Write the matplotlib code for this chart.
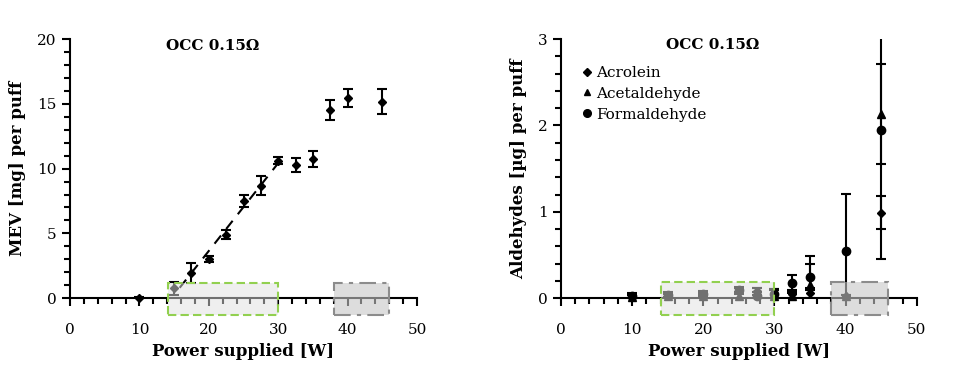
import matplotlib.pyplot as plt
import numpy as np
from matplotlib.patches import Rectangle
from matplotlib.ticker import MultipleLocator

plt.rcParams['font.family'] = ['DejaVu Serif']

# MEV per puff (left panel)
mev_power = [10, 15, 17.5, 20, 22.5, 25, 27.5, 30, 32.5, 35, 37.5, 40, 45]
mev_value = [0.02, 0.77, 1.93, 3.03, 4.88, 7.5, 8.69, 10.59, 10.28, 10.75, 14.52, 15.48, 15.17]
mev_err = [0.1, 0.5, 0.75, 0.25, 0.35, 0.5, 0.75, 0.27, 0.55, 0.65, 0.8, 0.7, 0.95]
fit_power = [15, 17.5, 20, 22.5, 25, 27.5, 30]

# Aldehydes per puff (right panel)
ald_power = [10, 15, 20, 25, 27.5, 30, 32.5, 35, 40, 45]
acrolein = [0.02, 0.03, 0.04, 0.09, 0.08, 0.05, 0.05, 0.06, 0.02, 0.99]
acrolein_err = [0.03, 0.03, 0.03, 0.03, 0.04, 0.06, 0.05, 0.06, 0.02, 0.19]
acetaldehyde = [0.01, 0.02, 0.02, 0.02, 0.08, 0.03, 0.02, 0.15, 0.02, 2.13]
acetaldehyde_err = [0.03, 0.03, 0.03, 0.03, 0.04, 0.06, 0.04, 0.34, 0.02, 0.58]
formaldehyde = [0.03, 0.04, 0.05, 0.1, 0.03, 0.05, 0.17, 0.25, 0.55, 1.95]
formaldehyde_err = [0.03, 0.03, 0.03, 0.03, 0.04, 0.06, 0.1, 0.15, 0.66, 1.5]

fig = plt.figure(figsize=(9.54, 3.69), dpi=100)
ax1 = fig.add_axes([0.0734, 0.192, 0.3637, 0.702])
ax2 = fig.add_axes([0.588, 0.192, 0.373, 0.702])

err_kw = dict(fmt='none', ecolor='black', capsize=3.5, elinewidth=1.5,
              capthick=1.5, clip_on=True, zorder=3)


def points(ax, x, y, err, marker, size):
    # error bars are clipped to the axes, markers are not
    ax.errorbar(x, y, yerr=err, **err_kw)
    ax.plot(x, y, linestyle='none', marker=marker, markersize=size, color='black',
            clip_on=False, zorder=4)


# left panel
points(ax1, mev_power, mev_value, mev_err, 'D', 4.5)
idx = [mev_power.index(p) for p in fit_power]
k, b = np.polyfit(fit_power, [mev_value[i] for i in idx], 1)
xf = np.array([15.8, 30.4])
ax1.plot(xf, k * xf + b, color='black', linestyle=(0, (5, 4)), linewidth=1.5, zorder=2)
ax1.set_ylim(0, 20)
ax1.yaxis.set_major_locator(MultipleLocator(5))
ax1.yaxis.set_minor_locator(MultipleLocator(1))
ax1.set_ylabel('MEV [mg] per puff', fontsize=12, fontweight='bold', labelpad=8)
ax1.text(20.6, 19.5, 'OCC 0.15Ω', ha='center', va='center', fontsize=11, fontweight='bold')

# right panel
points(ax2, ald_power, acrolein, acrolein_err, 'D', 4.5)
points(ax2, ald_power, acetaldehyde, acetaldehyde_err, '^', 6)
points(ax2, ald_power, formaldehyde, formaldehyde_err, 'o', 6)
ax2.set_ylim(0, 3)
ax2.yaxis.set_major_locator(MultipleLocator(1))
ax2.yaxis.set_minor_locator(MultipleLocator(0.2))
ax2.set_ylabel('Aldehydes [µg] per puff', fontsize=12, fontweight='bold', labelpad=8)
ax2.text(21.3, 2.93, 'OCC 0.15Ω', ha='center', va='center', fontsize=11, fontweight='bold')
ax2.plot([], [], 'kD', markersize=4, label='Acrolein')
ax2.plot([], [], 'k^', markersize=5, label='Acetaldehyde')
ax2.plot([], [], 'ko', markersize=5.5, label='Formaldehyde')
ax2.legend(loc='upper left', bbox_to_anchor=(0.03, 0.92), frameon=False, fontsize=11,
           handletextpad=0.0, handlelength=1.2, labelspacing=0.45, borderaxespad=0)

for ax, top, bot in [(ax1, 1.16, -1.29), (ax2, 0.185, -0.19)]:
    ax.set_xlim(0, 50)
    ax.xaxis.set_major_locator(MultipleLocator(10))
    ax.xaxis.set_minor_locator(MultipleLocator(2))
    ax.spines['top'].set_visible(False)
    ax.spines['right'].set_visible(False)
    ax.spines['left'].set_linewidth(1.5)
    ax.spines['bottom'].set_linewidth(1.5)
    ax.tick_params(which='both', direction='out', width=1.5, labelsize=11)
    ax.tick_params(which='major', length=6)
    ax.tick_params(which='minor', length=4)
    ax.tick_params(axis='x', which='both', pad=12)
    ax.set_xlabel('Power supplied [W]', fontsize=12, fontweight='bold', labelpad=4)
    ax.add_patch(Rectangle((14.1, bot), 30 - 14.1, top - bot, facecolor=(0.88, 0.88, 0.88, 0.5),
                           edgecolor='#92d050', linestyle=(0, (4, 2)), linewidth=1.5,
                           clip_on=False, zorder=5))
    ax.add_patch(Rectangle((38, bot), 8, top - bot, facecolor=(0.78, 0.78, 0.78, 0.6),
                           edgecolor='#8c8c8c', linestyle=(0, (8, 3, 2, 3)), linewidth=1.5,
                           clip_on=False, zorder=5))

fig.savefig('out.png', dpi=100)
